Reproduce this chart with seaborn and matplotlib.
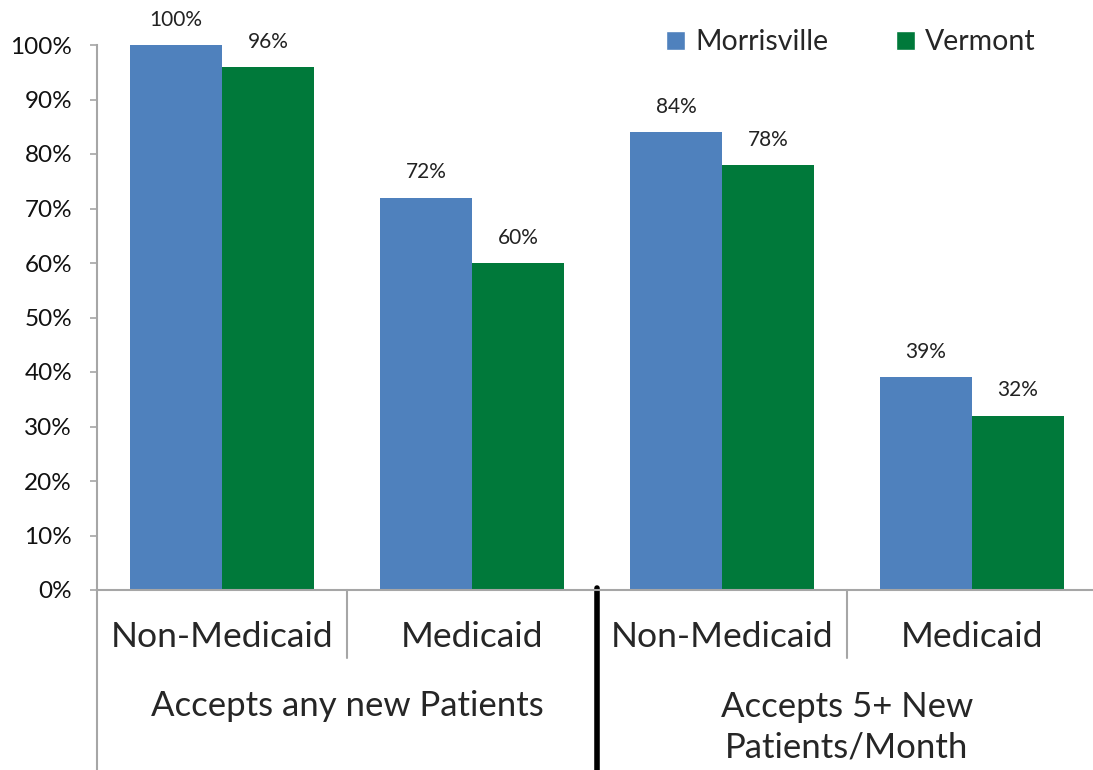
import pandas as pd
import matplotlib.pyplot as plt
import seaborn as sns
from matplotlib.patches import Patch

# ===============================
# DATA
# ===============================
bar_keys = ['any_non', 'any_med', 'five_non', 'five_med']
sub_labels = ['Non-Medicaid', 'Medicaid', 'Non-Medicaid', 'Medicaid']
group_labels = ['Accepts any new Patients', 'Accepts 5+ New\nPatients/Month']
series = ['Morrisville', 'Vermont']
morrisville = [100, 72, 84, 39]
vermont = [96, 60, 78, 32]
colors = ['#4F81BD', '#00793A']

df = pd.DataFrame({
    'key': bar_keys * 2,
    'value': morrisville + vermont,
    'series': [series[0]] * 4 + [series[1]] * 4,
})

# ===============================
# PLOT
# ===============================
sns.set_style('white')
plt.rcParams['font.family'] = ['Lato', 'DejaVu Sans']

fig = plt.figure(figsize=(10.93, 7.70), dpi=100)
ax = fig.add_axes([97 / 1093, 180 / 770, 996 / 1093, 545 / 770])

sns.barplot(data=df, x='key', y='value', hue='series', order=bar_keys,
            palette=colors, saturation=1, width=0.736, ax=ax, legend=False,
            linewidth=0)

for cont in ax.containers:
    ax.bar_label(cont, fmt='%d%%', padding=11, fontsize=15, color='#222222')

ax.set_ylim(0, 100)
ax.set_xlim(-0.5, 3.484)
ax.set_yticks(range(0, 101, 10))
ax.set_yticklabels([f'{v}%' for v in range(0, 101, 10)], fontsize=17.5)
ax.set_xticks([])
ax.set_xlabel('')
ax.set_ylabel('')
ax.tick_params(axis='y', which='both', left=True, length=5, width=1.2,
               color='#A6A6A6', pad=13, labelcolor='#111111')

for side in ['top', 'right']:
    ax.spines[side].set_visible(False)
for side in ['left', 'bottom']:
    ax.spines[side].set_color('#A6A6A6')
    ax.spines[side].set_linewidth(1.5)

# multi-level category axis
trans = ax.get_xaxis_transform()
ax.plot([-0.5, -0.5], [0, -0.34], transform=trans, color='#A6A6A6', lw=1.5, clip_on=False)
for x in [0.5, 2.5]:
    ax.plot([x, x], [0, -0.125], transform=trans, color='#A6A6A6', lw=1.5, clip_on=False)
ax.plot([1.5, 1.5], [0.004, -0.34], transform=trans, color='black', lw=4, clip_on=False)

for i, lab in enumerate(sub_labels):
    ax.text(i, -0.086, lab, transform=trans, ha='center', va='center', fontsize=25.5)
ax.text(0.5, -0.213, group_labels[0], transform=trans, ha='center', va='center', fontsize=25)
ax.text(2.5, -0.252, group_labels[1], transform=trans, ha='center', va='center',
        fontsize=25, linespacing=1.3)

handles = [Patch(facecolor=c, label=s) for c, s in zip(colors, series)]
ax.legend(handles=handles, loc='center', bbox_to_anchor=(0.757, 1.005), ncol=2,
          frameon=False, fontsize=20.5, handlelength=0.65, handleheight=0.65,
          handletextpad=0.35, columnspacing=2.4)

plt.savefig('out.png', dpi=100)
